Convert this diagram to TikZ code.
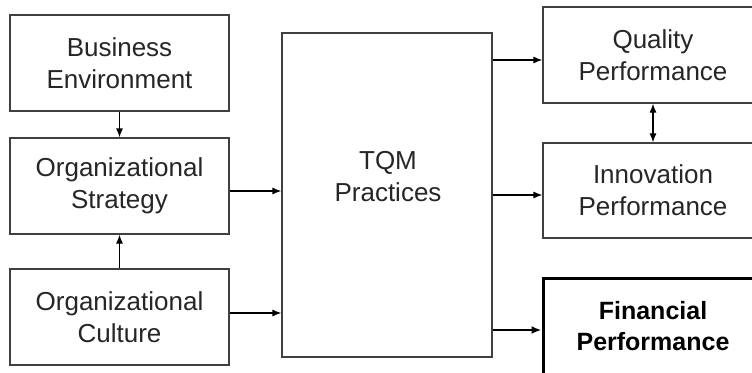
\documentclass[tikz,border=0pt]{standalone}
\usepackage{fontspec}
\setmainfont{Liberation Sans}
\usetikzlibrary{arrows.meta}
\begin{document}
\begin{tikzpicture}[x=1pt,y=-1pt,
  box/.style={draw=black!75, line width=1.2pt, minimum width=219pt, minimum height=96pt,
    inner sep=0pt, align=center, text=black!85, font=\fontsize{26}{32}\selectfont},
  thickbox/.style={box, draw=black, line width=3pt, text=black, font=\fontsize{25}{31}\selectfont\bfseries},
  arr/.style={-{Latex[length=9pt,width=7pt]}, line width=1.2pt, draw=black},
  thickarr/.style={-{Latex[length=10pt,width=8pt]}, line width=2.6pt, draw=black},
  dblarr/.style={{Latex[length=9pt,width=7pt]}-{Latex[length=9pt,width=7pt]}, line width=1.2pt, draw=black}]
\useasboundingbox (0,0) rectangle (752,372);
\clip (0,0) rectangle (752,372);
\fill[white] (0,0) rectangle (752,372);
% left column
\node[box] (be) at (119.5,63) {Business\\Environment};
\node[box] (os) at (119.5,186) {Organizational\\Strategy};
\node[box] (oc) at (119.5,317) {Organizational\\Culture};
% centre
\node[box, minimum width=210pt, minimum height=324pt] (tqm) at (387,195) {};
\node[align=center, text=black!85, font=\fontsize{26}{32}\selectfont, inner sep=0pt] (tqmtext) at (388,177) {TQM\\Practices};
% right column
\node[box, minimum width=220pt] (qp) at (653,55) {Quality\\Performance};
\node[box, minimum width=220pt, minimum height=95pt] (ip) at (653,190.5) {Innovation\\Performance};
\node[thickbox, minimum width=220pt] (fp) at (653,326) {Financial\\Performance};
% connectors
\draw[arr] (be) -- (os);
\draw[arr] (oc) -- (os);
\draw[arr] ([yshift=-5pt]os.east) -- ([yshift=-5pt]os.east -| tqm.west);
\draw[arr] ([yshift=4pt]oc.east) -- ([yshift=4pt]oc.east -| tqm.west);
\draw[arr] ([yshift=-5pt]qp.west -| tqm.east) -- ([yshift=-5pt]qp.west);
\draw[arr] ([yshift=-4.5pt]ip.west -| tqm.east) -- ([yshift=-4.5pt]ip.west);
\draw[thickarr] ([yshift=-4pt]fp.west -| tqm.east) -- ([yshift=-4pt]fp.west);
\draw[dblarr] (qp) -- (ip);
\end{tikzpicture}
\end{document}
